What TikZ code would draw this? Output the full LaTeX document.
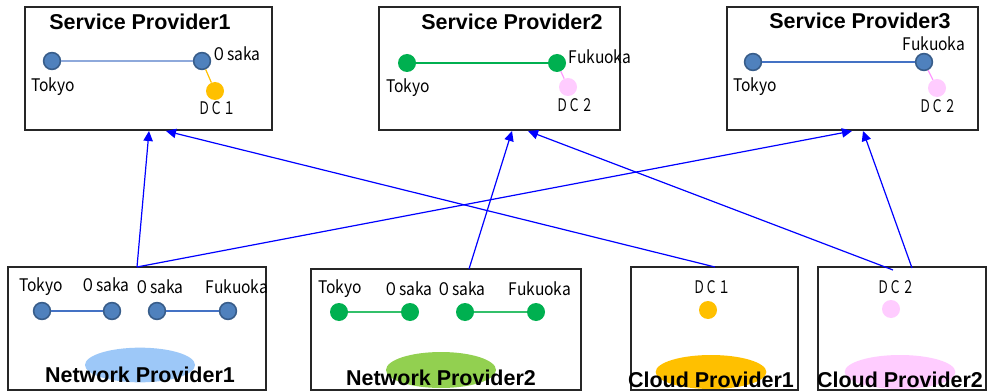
\documentclass[tikz,border=0pt]{standalone}
\usepackage{fontspec}
\usepackage{graphicx}
\setmainfont{Liberation Sans}
\newfontfamily\jpfont[FakeStretch=0.9]{Noto Sans CJK JP}
\usetikzlibrary{arrows.meta}
\definecolor{bfill}{HTML}{4F81BD}
\definecolor{bline}{HTML}{385D8A}
\definecolor{gfill}{HTML}{00B050}
\definecolor{ofill}{HTML}{FFC000}
\definecolor{pfill}{HTML}{FFCCFF}
\definecolor{pline}{HTML}{FF99FF}
\definecolor{lblue}{HTML}{8EA9DB}
\definecolor{mblue}{HTML}{4472C4}
\definecolor{glight}{HTML}{33C06A}
\definecolor{ellblue}{HTML}{9DC8F8}
\definecolor{ellgreen}{HTML}{92D050}
\definecolor{boxline}{HTML}{262626}
\definecolor{arrblue}{HTML}{0000FF}
\tikzset{
  box/.style={draw=boxline, line width=1pt, inner sep=0pt, fill=none},
  title/.style={font=\bfseries\fontsize{16.1pt}{18pt}\selectfont, inner sep=0pt},
  lbl/.style={font=\jpfont\fontsize{13pt}{15pt}\selectfont, inner sep=0pt},
  bnode/.style={circle, fill=bfill, draw=bline, line width=1.2pt, minimum size=12.6pt, inner sep=0pt},
  gnode/.style={circle, fill=gfill, minimum size=13.5pt, inner sep=0pt},
  onode/.style={circle, fill=ofill, minimum size=13.5pt, inner sep=0pt},
  pnode/.style={circle, fill=pfill, minimum size=13.5pt, inner sep=0pt},
  link/.style={arrblue, line width=0.9pt, -{Triangle[length=7.5pt,width=7pt]}},
}
\newcommand{\dcone}{\scalebox{0.78}[1]{ＤＣ１}}
\newcommand{\dctwo}{\scalebox{0.78}[1]{ＤＣ２}}
\begin{document}
\begin{tikzpicture}[x=0.75pt,y=-0.75pt]
\useasboundingbox (0,0) rectangle (992,392);
\fill[white] (0,0) rectangle (992,392);

% boxes
\node[box, minimum width=185.25pt, minimum height=92.25pt] (sp1) at (148.5,68.5) {};
\node[box, minimum width=180.75pt, minimum height=92.25pt] (sp2) at (499.5,68.5) {};
\node[box, minimum width=188.25pt, minimum height=92.25pt] (sp3) at (852.5,68.5) {};
\node[box, minimum width=193.5pt, minimum height=92.25pt] (np1) at (137,328.5) {};
\node[box, minimum width=202.5pt, minimum height=90.75pt] (np2) at (446,329.5) {};
\node[box, minimum width=125.25pt, minimum height=92.25pt] (cp1) at (714.5,328.5) {};
\node[box, minimum width=126pt, minimum height=92.25pt] (cp2) at (902,328.5) {};

% ellipses
\fill[ellblue] (140,365) ellipse [x radius=41.25pt, y radius=13pt];
\fill[ellgreen] (441,370) ellipse [x radius=41.25pt, y radius=13.5pt];
\fill[ofill] (711,372) ellipse [x radius=41.5pt, y radius=12.75pt];
\fill[pfill] (900,372) ellipse [x radius=41.5pt, y radius=12.75pt];

% titles
\node[title] (tsp1) at (140,22) {Service Provider1};
\node[title] (tsp2) at (512,22) {Service Provider2};
\node[title] (tsp3) at (860,21) {Service Provider3};
\node[title] (tnp1) at (140,375) {Network Provider1};
\node[title] (tnp2) at (441,378) {Network Provider2};
\node[title] (tcp1) at (711,380) {Cloud Provider1};
\node[title] (tcp2) at (900,380) {Cloud Provider2};

% Service Provider1
\node[bnode] (s1t) at (52,61) {};
\node[bnode] (s1o) at (202,61) {};
\node[onode] (s1d) at (215,91) {};
\draw[lblue, line width=1.1pt] (s1t) -- (s1o);
\draw[ofill, line width=0.9pt] (s1o) -- (s1d);
\node[lbl] (l1t) at (53,87) {Tokyo};
\node[lbl] (l1o) at (236,54) {０saka};
\node[lbl] (l1d) at (217,108) {\dcone};

% Service Provider2
\node[gnode] (s2t) at (407,63) {};
\node[gnode] (s2f) at (557,63) {};
\node[pnode] (s2d) at (568,87) {};
\draw[gfill, line width=0.8pt] (s2t) -- (s2f);
\draw[pline, line width=0.9pt] (s2f) -- (s2d);
\node[lbl] (l2t) at (408,88) {Tokyo};
\node[lbl] (l2f) at (600,57) {Fukuoka};
\node[lbl] (l2d) at (575,105) {\dctwo};

% Service Provider3
\node[bnode] (s3t) at (753,62) {};
\node[bnode] (s3f) at (924,62) {};
\node[pnode] (s3d) at (937,88) {};
\draw[mblue, line width=0.8pt] (s3t) -- (s3f);
\draw[pline, line width=0.9pt] (s3f) -- (s3d);
\node[lbl] (l3t) at (755,87) {Tokyo};
\node[lbl] (l3f) at (934,44) {Fukuoka};
\node[lbl] (l3d) at (938,106) {\dctwo};

% Network Provider1
\node[bnode] (n1a) at (42,311) {};
\node[bnode] (n1b) at (112,311) {};
\node[bnode] (n1c) at (157,311) {};
\node[bnode] (n1d) at (228,311) {};
\draw[mblue, line width=0.8pt] (n1a) -- (n1b);
\draw[mblue, line width=0.8pt] (n1c) -- (n1d);
\node[lbl] (m1a) at (41,287) {Tokyo};
\node[lbl] (m1b) at (105,285) {０saka};
\node[lbl] (m1c) at (159,287) {０saka};
\node[lbl] (m1d) at (237,287) {Fukuoka};

% Network Provider2
\node[gnode] (n2a) at (339,312) {};
\node[gnode] (n2b) at (410,312) {};
\node[gnode] (n2c) at (465,312) {};
\node[gnode] (n2d) at (536,312) {};
\draw[glight, line width=0.9pt] (n2a) -- (n2b);
\draw[glight, line width=0.9pt] (n2c) -- (n2d);
\node[lbl] (m2a) at (340,289) {Tokyo};
\node[lbl] (m2b) at (408,289) {０saka};
\node[lbl] (m2c) at (461,289) {０saka};
\node[lbl] (m2d) at (540,289) {Fukuoka};

% Cloud Providers
\node[lbl] (c1l) at (712,287) {\dcone};
\node[onode] (c1d) at (708,310) {};
\node[lbl] (c2l) at (896,287) {\dctwo};
\node[pnode] (c2d) at (891,309) {};

% connector end points
\coordinate (np1top) at (137,267);
\coordinate (np2top) at (469,269);
\coordinate (cp1top) at (715,267);
\coordinate (cp2a) at (893,270);
\coordinate (cp2b) at (912,268);
\coordinate (sp1a) at (149,131);
\coordinate (sp1b) at (166,131);
\coordinate (sp2a) at (512,131);
\coordinate (sp2b) at (528,131);
\coordinate (sp3a) at (852,131);
\coordinate (sp3b) at (863,131);

\draw[link] (np1top) -- (sp1a);
\draw[link] (np1top) -- (sp3a);
\draw[link] (cp1top) -- (sp1b);
\draw[link] (np2top) -- (sp2a);
\draw[link] (cp2a) -- (sp2b);
\draw[link] (cp2b) -- (sp3b);
\end{tikzpicture}
\end{document}
